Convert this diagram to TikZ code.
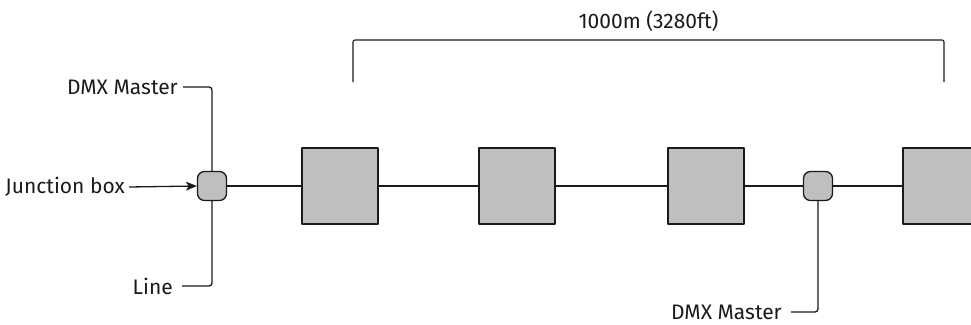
\documentclass[tikz,border=0pt]{standalone}
\usepackage{fontspec}
\setmainfont{Fira Sans}
\usetikzlibrary{arrows.meta}
\definecolor{devgrey}{HTML}{BEBFC1}
\definecolor{ink}{HTML}{1A1A1A}

\begin{document}
\begin{tikzpicture}[x=1pt, y=-1pt, font=\fontsize{21}{24}\selectfont, line join=round, >={Stealth[length=11pt,width=9pt,inset=3pt]}]
            \tikzset{
                jbox/.style={draw=ink, line width=1.3pt, fill=devgrey, rounded corners=7pt, minimum size=29pt, inner sep=0pt},
                dev/.style={draw=ink, line width=2pt, fill=devgrey, minimum size=76pt, inner sep=0pt},
                wire/.style={draw=ink, line width=1.3pt},
                lbl/.style={text=ink, inner ysep=0pt, inner xsep=5pt, anchor=east}
            }
            \useasboundingbox (0,0) rectangle (971,324);
            \clip (0,0) rectangle (971,324);
            % junction boxes and devices
            \node[jbox] (jbA) at (212,186) {};
            \node[dev] (devA) at (339.5,186) {};
            \node[dev] (devB) at (517,186) {};
            \node[dev] (devC) at (706,186) {};
            \node[jbox] (jbB) at (818,186) {};
            \node[dev] (devD) at (941,186) {};
            \draw[wire] (jbA) -- (devA) (devA) -- (devB) (devB) -- (devC) (devC) -- (jbB) (jbB) -- (devD);
            % labels
            \node[lbl] (dmxA) at (183,87) {DMX Master};
            \node[lbl, inner xsep=4pt] (jbLbl) at (129,187) {Junction box};
            \node[lbl, inner xsep=9pt] (lineLbl) at (182,286) {Line};
            \node[lbl, inner xsep=9pt] (dmxB) at (791,312) {DMX Master};
            \draw[wire, rounded corners=3pt] (dmxA.east) -| (jbA.north);
            \draw[wire, ->] (jbLbl.east) -- (jbA.west);
            \draw[wire, rounded corners=3pt] (lineLbl.east) -| (jbA.south);
            \draw[wire, rounded corners=3pt] (dmxB.east) -| (jbB.south);
            % span bracket
            \coordinate (brL) at (353,82);
            \coordinate (brTL) at (353,40);
            \coordinate (brTR) at (944,40);
            \coordinate (brR) at (944,82);
            \draw[wire, line width=1.1pt, rounded corners=2pt] (brL) -- (brTL) -- node[above=8pt, inner sep=0pt, text=ink] (span) {1000m (3280ft)} (brTR) -- (brR);
    \end{tikzpicture}
\end{document}
